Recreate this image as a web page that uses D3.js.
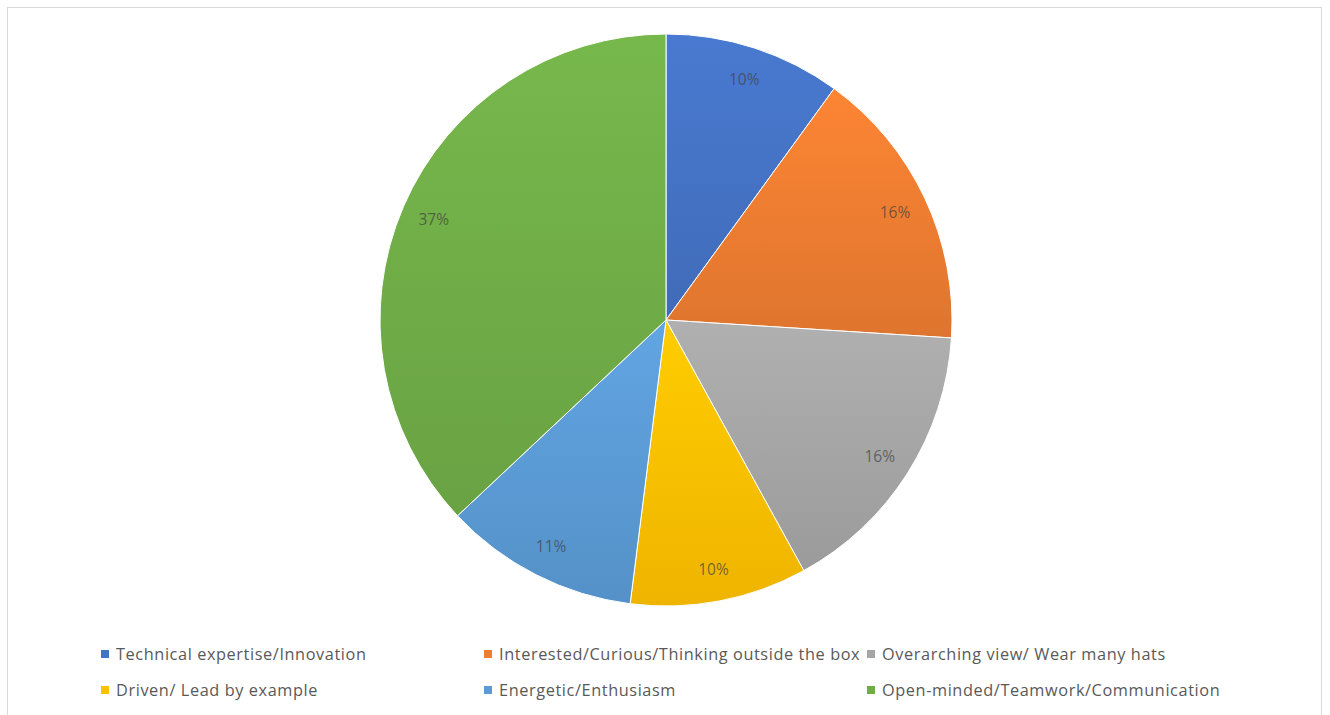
<!DOCTYPE html>
<html>
<head>
<meta charset="utf-8">
<script src="https://cdn.jsdelivr.net/npm/d3@7"></script>
<style>
  html, body { margin: 0; padding: 0; background: #ffffff; }
  svg { display: block; }
</style>
</head>
<body>
<svg id="chart" width="1330" height="715"></svg>
<script>
// Survey answers: which qualities matter most
const categories = [
  "Technical expertise/Innovation",
  "Interested/Curious/Thinking outside the box",
  "Overarching view/ Wear many hats",
  "Driven/ Lead by example",
  "Energetic/Enthusiasm",
  "Open-minded/Teamwork/Communication"
];
const shares = [10, 16, 16, 10, 11, 37];
const sliceColors = ["#4472C4", "#ED7D31", "#A5A5A5", "#FFC000", "#5B9BD5", "#70AD47"];

const svg = d3.select("#chart");

// chart area frame
svg.append("rect")
  .attr("x", 7.5).attr("y", 7.5)
  .attr("width", 1314).attr("height", 740)
  .attr("fill", "#ffffff")
  .attr("stroke", "#d9d9d9")
  .attr("stroke-width", 1);

const cx = 666, cy = 320, R = 286;

const data = categories.map((c, i) => ({ name: c, value: shares[i], color: sliceColors[i] }));

// vertical gradient per slice: lighter at the top, deeper at the bottom
const defs = svg.append("defs");
data.forEach((d, i) => {
  const base = d3.color(d.color);
  const g = defs.append("linearGradient")
    .attr("id", "grad" + i)
    .attr("x1", 0).attr("y1", 0).attr("x2", 0).attr("y2", 1);
  g.append("stop").attr("offset", "0%").attr("stop-color", base.brighter(0.18).formatHex());
  g.append("stop").attr("offset", "100%").attr("stop-color", base.darker(0.18).formatHex());
});

const pie = d3.pie().value(d => d.value).sort(null);
const arc = d3.arc().innerRadius(0).outerRadius(R);
const labelArc = d3.arc().innerRadius(R * 0.885).outerRadius(R * 0.885);

const arcs = pie(data);
const g = svg.append("g").attr("transform", `translate(${cx},${cy})`);

g.selectAll("path.slice")
  .data(arcs)
  .join("path")
  .attr("class", "slice")
  .attr("d", arc)
  .attr("fill", (d, i) => `url(#grad${i})`)
  .attr("stroke", "#ffffff")
  .attr("stroke-width", 1);

const fmt = d3.format(".0%");
const total = d3.sum(shares);
g.selectAll("text.pct")
  .data(arcs)
  .join("text")
  .attr("class", "pct")
  .attr("transform", d => `translate(${labelArc.centroid(d)})`)
  .attr("text-anchor", "middle")
  .attr("dominant-baseline", "central")
  .attr("font-family", "'Open Sans', Lato, sans-serif")
  .attr("font-size", 15.5)
  .attr("fill", "#404040")
  .attr("fill-opacity", 0.7)
  .text(d => fmt(d.data.value / total));

// legend: three columns, two rows
const colX = d3.scaleLinear().domain([0, 1]).range([101, 484]);
const rowY = d3.scaleLinear().domain([0, 1]).range([654, 690]);
const legend = svg.append("g");
const items = legend.selectAll("g.item")
  .data(data)
  .join("g")
  .attr("class", "item")
  .attr("transform", (d, i) => `translate(${colX(i % 3)},${rowY(Math.floor(i / 3))})`);

items.append("rect")
  .attr("x", 0).attr("y", -4)
  .attr("width", 8).attr("height", 8)
  .attr("fill", d => d.color);

items.append("text")
  .attr("x", 15)
  .attr("y", 0)
  .attr("dominant-baseline", "central")
  .attr("font-family", "'Open Sans', Lato, sans-serif")
  .attr("font-size", 16.3)
  .attr("letter-spacing", 0.6)
  .attr("fill", "#595959")
  .text(d => d.name);
</script>
</body>
</html>
